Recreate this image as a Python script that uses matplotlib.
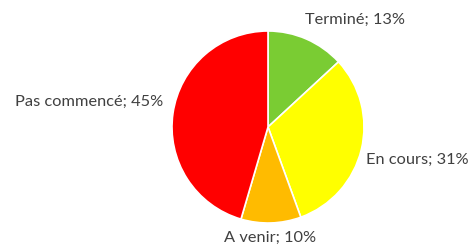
import matplotlib
matplotlib.use("Agg")
import matplotlib.pyplot as plt

categories = ["Terminé", "En cours", "A venir", "Pas commencé"]
values = [13, 31, 10, 45]
colors = ["#7ACC33", "#FFFF00", "#FFBB00", "#FF0000"]

W, H = 470, 245
fig = plt.figure(figsize=(W / 100, H / 100), dpi=100)
ax = fig.add_axes([0, 0, 1, 1])

cx, cy, r = 268, H - 127, 96
ax.pie(values, colors=colors, startangle=90, counterclock=False,
       center=(cx, cy), radius=r, frame=True,
       wedgeprops=dict(edgecolor="white", linewidth=1.2))
ax.set_xlim(0, W)
ax.set_ylim(0, H)
ax.set_aspect("equal")
ax.axis("off")

label_pos = [(355, 20), (417, 160), (270, 238), (89, 102)]
for cat, v, (x, y) in zip(categories, values, label_pos):
    ax.text(x, H - y, f"{cat}; {v}%", ha="center", va="center", fontsize=11.8,
            color="#404040", family=["Lato", "DejaVu Sans"])

fig.savefig("out.png", dpi=100)
